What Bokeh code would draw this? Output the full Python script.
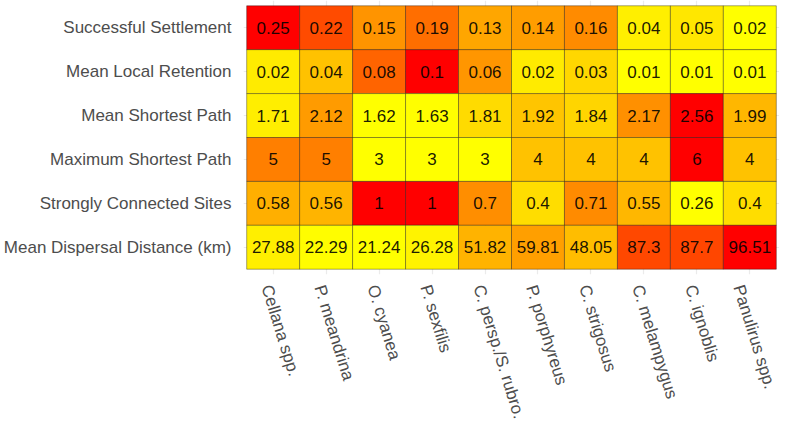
import math
from bokeh.plotting import figure
from bokeh.models import (ColumnDataSource, LinearColorMapper, FactorRange, Range1d,
                          LinearAxis, Grid, FixedTicker)
from bokeh.transform import transform
from bokeh.core.properties import value
from bokeh.embed import file_html
from bokeh.resources import INLINE

species = ["Cellana spp.", "P. meandrina", "O. cyanea", "P. sexfilis",
           "C. persp./S. rubro.", "P. porphyreus", "C. strigosus",
           "C. melampygus", "C. ignoblis", "Panulirus spp."]
metrics = ["Successful Settlement", "Mean Local Retention", "Mean Shortest Path",
           "Maximum Shortest Path", "Strongly Connected Sites",
           "Mean Dispersal Distance (km)"]

successful_settlement = [0.25, 0.22, 0.15, 0.19, 0.13, 0.14, 0.16, 0.04, 0.05, 0.02]
mean_local_retention = [0.02, 0.04, 0.08, 0.1, 0.06, 0.02, 0.03, 0.01, 0.01, 0.01]
mean_shortest_path = [1.71, 2.12, 1.62, 1.63, 1.81, 1.92, 1.84, 2.17, 2.56, 1.99]
maximum_shortest_path = [5, 5, 3, 3, 3, 4, 4, 4, 6, 4]
strongly_connected_sites = [0.58, 0.56, 1, 1, 0.7, 0.4, 0.71, 0.55, 0.26, 0.4]
mean_dispersal_distance = [27.88, 22.29, 21.24, 26.28, 51.82, 59.81, 48.05, 87.3, 87.7, 96.51]

rows = [successful_settlement, mean_local_retention, mean_shortest_path,
        maximum_shortest_path, strongly_connected_sites, mean_dispersal_distance]

# ---- Lab-interpolated yellow -> red palette (like ggplot's scale_fill_gradient)
def srgb_to_lin(c):
    return c / 12.92 if c <= 0.04045 else ((c + 0.055) / 1.055) ** 2.4

def lin_to_srgb(c):
    c = max(0.0, min(1.0, c))
    return 12.92 * c if c <= 0.0031308 else 1.055 * c ** (1 / 2.4) - 0.055

Xn, Yn, Zn = 0.95047, 1.0, 1.08883

def f(t):
    return t ** (1 / 3) if t > 0.008856 else 7.787 * t + 16 / 116

def finv(t):
    return t ** 3 if t ** 3 > 0.008856 else (t - 16 / 116) / 7.787

def rgb_to_lab(r, g, b):
    r, g, b = [srgb_to_lin(v / 255) for v in (r, g, b)]
    X = 0.4124 * r + 0.3576 * g + 0.1805 * b
    Y = 0.2126 * r + 0.7152 * g + 0.0722 * b
    Z = 0.0193 * r + 0.1192 * g + 0.9505 * b
    fx, fy, fz = f(X / Xn), f(Y / Yn), f(Z / Zn)
    return 116 * fy - 16, 500 * (fx - fy), 200 * (fy - fz)

def lab_to_hex(L, a, b):
    fy = (L + 16) / 116
    fx = fy + a / 500
    fz = fy - b / 200
    X, Y, Z = Xn * finv(fx), Yn * finv(fy), Zn * finv(fz)
    r = 3.2406 * X - 1.5372 * Y - 0.4986 * Z
    g = -0.9689 * X + 1.8758 * Y + 0.0415 * Z
    bb = 0.0557 * X - 0.2040 * Y + 1.0570 * Z
    return "#%02x%02x%02x" % tuple(int(round(lin_to_srgb(v) * 255)) for v in (r, g, bb))

low_lab = rgb_to_lab(255, 255, 0)
high_lab = rgb_to_lab(255, 0, 0)
palette = [lab_to_hex(*[lo + (hi - lo) * i / 255 for lo, hi in zip(low_lab, high_lab)])
           for i in range(256)]

# ---- table built from the named arrays (per-row rescaled fill)
xs, ys, vals, norms, labels = [], [], [], [], []
for m, row in zip(metrics, rows):
    lo, hi = min(row), max(row)
    for i, v in enumerate(row):
        xs.append(i + 1)
        ys.append(m)
        vals.append(v)
        norms.append((v - lo) / (hi - lo))
        labels.append(f"{v:g}")

src = ColumnDataSource(dict(x=xs, metric=ys, val=vals, norm=norms, label=labels))
mapper = LinearColorMapper(palette=palette, low=0, high=1)

n = len(species)
pad = 0.06
p = figure(x_range=Range1d(0.5 - pad, n + 0.5 + pad),
           y_range=FactorRange(*reversed(metrics), range_padding=2 * pad,
                               range_padding_units="absolute"),
           x_axis_type=None,
           width=779, height=426, output_backend="svg", toolbar_location=None,
           min_border_left=0, min_border_right=0, min_border_top=0, min_border_bottom=0)

centers = [i + 1 for i in range(n)]
p.add_layout(Grid(dimension=0, ticker=FixedTicker(ticks=centers),
                  grid_line_color="#EBEBEB", grid_line_width=1.2), "center")

shift = 0.125
label_ticks = [c - shift for c in centers]
xaxis = LinearAxis(ticker=FixedTicker(ticks=label_ticks),
                   major_label_overrides={t: s for t, s in zip(label_ticks, species)})
p.add_layout(xaxis, "below")

p.rect(x="x", y="metric", width=1, height=1, source=src,
       fill_color=transform("norm", mapper), line_color="black", line_alpha=0.35, line_width=1)
p.text(x="x", y="metric", text="label", source=src, text_align="center",
       text_baseline="middle", text_font=value("Liberation Sans"), text_font_size="17px",
       text_color="black", text_alpha=0.9)

p.outline_line_color = None
p.ygrid.grid_line_color = "#EBEBEB"
p.ygrid.grid_line_width = 1.2
for ax in (p.yaxis[0], xaxis):
    ax.axis_line_color = None
    ax.major_tick_line_color = None
    ax.minor_tick_line_color = None
    ax.major_tick_out = 0
    ax.major_tick_in = 0
    ax.minor_tick_out = 0
    ax.minor_tick_in = 0
    ax.major_label_text_font = "Liberation Sans"
    ax.major_label_text_font_size = "17px"
    ax.major_label_text_color = "#4D4D4D"
p.yaxis.major_label_standoff = 12
xaxis.major_label_standoff = 11
xaxis.major_label_text_line_height = 0.6
xaxis.major_label_orientation = -1.27

open("out.html", "w").write(file_html(p, INLINE))
